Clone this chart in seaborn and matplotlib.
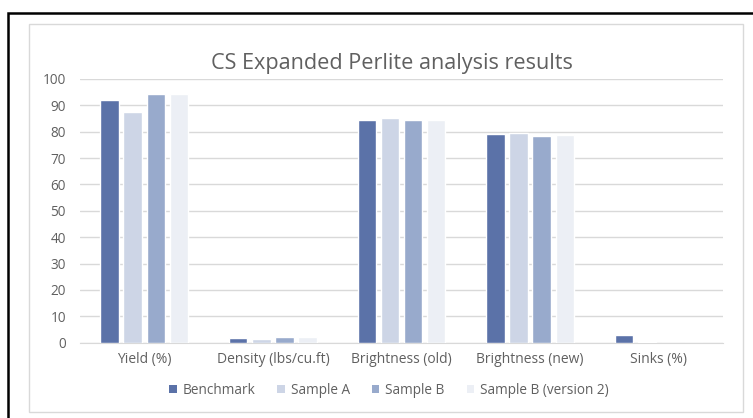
import pandas as pd
import matplotlib.pyplot as plt
import seaborn as sns
from matplotlib.patches import Rectangle, Patch

# data
categorias = ["Yield (%)", "Density (lbs/cu.ft)", "Brightness (old)", "Brightness (new)", "Sinks (%)"]
benchmark = [92, 1.6, 84.6, 79.0, 3.0]
sample_a = [87.3, 1.3, 85.4, 79.6, 0.4]
sample_b = [94.5, 2.2, 84.3, 78.4, 0]
sample_b_v2 = [94.3, 2.0, 84.6, 78.6, 0]
series = ["Benchmark", "Sample A", "Sample B", "Sample B (version 2)"]
colores = ["#5b72a8", "#cdd5e6", "#98aacc", "#eceff5"]

df = pd.DataFrame({
    "categoria": categorias * 4,
    "serie": sum([[s] * len(categorias) for s in series], []),
    "valor": benchmark + sample_a + sample_b + sample_b_v2,
})

sns.set_style("white")
plt.rcParams["font.family"] = ["Open Sans", "DejaVu Sans"]
gris = "#606060"

fig = plt.figure(figsize=(7.53, 4.18), dpi=100)
ax = fig.add_axes([80 / 753, 1 - 342.7 / 418, (723 - 80) / 753, (342.7 - 79) / 418])

sns.barplot(data=df, x="categoria", y="valor", hue="serie", palette=colores,
            width=0.72, gap=0.2, saturation=1, legend=False, ax=ax, zorder=3)

ax.set_ylim(0, 100)
ax.set_yticks(range(0, 101, 10))
ax.set_xlim(-0.5, len(categorias) - 0.5)
ax.grid(axis="y", color="#d9d9d9", lw=1, zorder=0)
ax.set_axisbelow(True)
for s in ["top", "right", "left"]:
    ax.spines[s].set_visible(False)
ax.spines["bottom"].set_color("#d9d9d9")
ax.tick_params(axis="y", length=0, pad=10, labelsize=9.8, labelcolor=gris)
ax.tick_params(axis="x", length=0, pad=7, labelsize=10, labelcolor=gris)
ax.set_xlabel("")
ax.set_ylabel("")

fig.text(392 / 753, 1 - 63 / 418, "CS Expanded Perlite analysis results",
         ha="center", va="center", fontsize=15.6, color=gris)

handles = [Patch(facecolor=c, edgecolor="none") for c in colores]
fig.legend(handles, series, loc="center", bbox_to_anchor=(389 / 753, 1 - 390 / 418),
           ncol=4, frameon=False, fontsize=9.8, labelcolor=gris,
           handlelength=0.55, handleheight=0.55, handletextpad=0.45, columnspacing=1.6)

# marcos
fig.patches.append(Rectangle((29 / 753, 1 - 412 / 418), (743 - 29) / 753, (412 - 24) / 418,
                             transform=fig.transFigure, fill=False, ec="#d9d9d9", lw=1))
fig.patches.append(Rectangle((8 / 753, -0.1), 1.1, 1.1 - 12.7 / 418,
                             transform=fig.transFigure, fill=False, ec="black", lw=1.8))

plt.savefig("out.png", dpi=100)
